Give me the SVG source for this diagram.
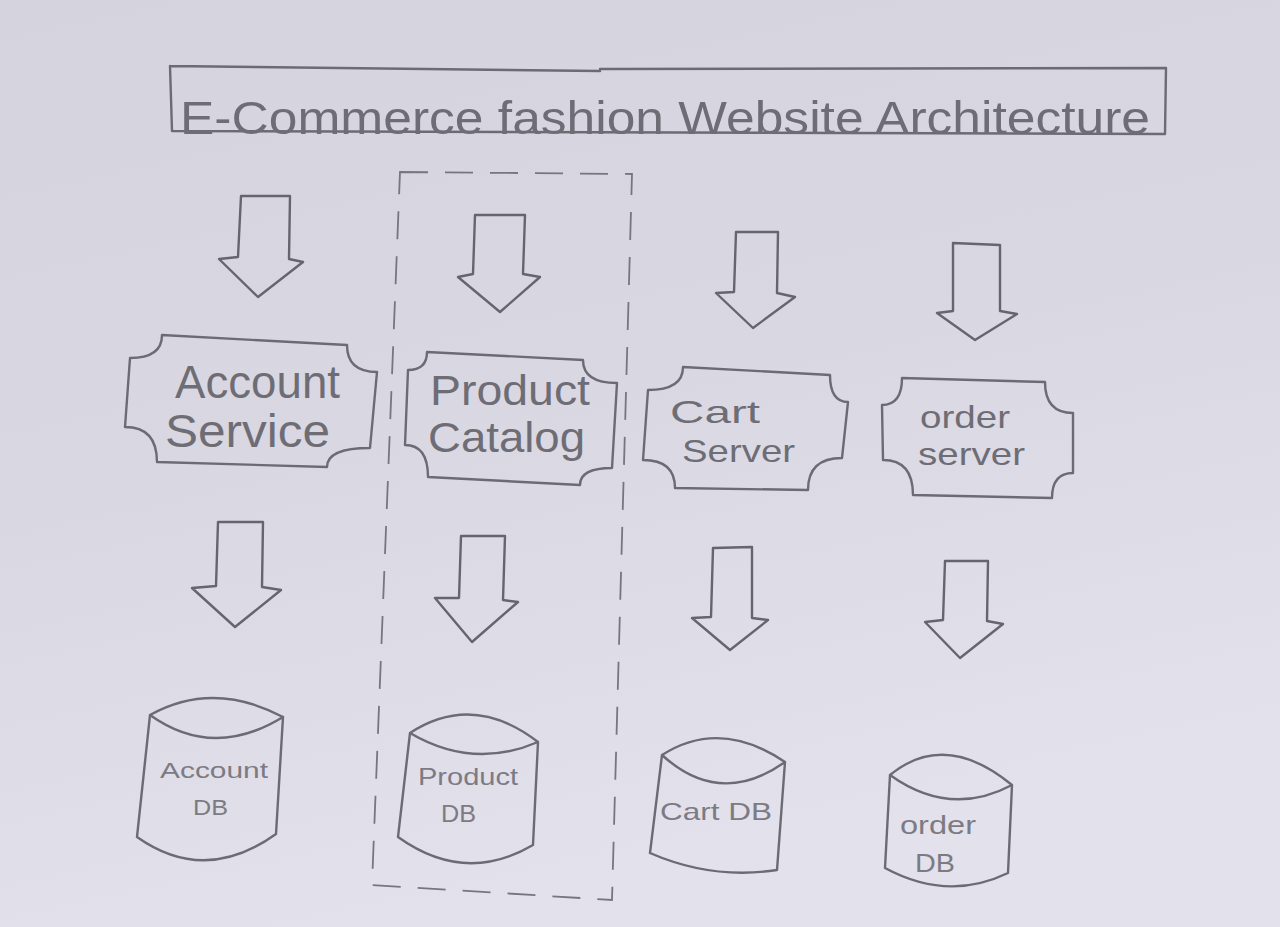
<svg xmlns="http://www.w3.org/2000/svg" width="1280" height="927" viewBox="0 0 1280 927">
<defs>
<linearGradient id="paper" x1="0" y1="0" x2="0.3" y2="1">
<stop offset="0" stop-color="#d5d4de"/>
<stop offset="0.5" stop-color="#d9d8e2"/>
<stop offset="1" stop-color="#e3e1eb"/>
</linearGradient>
<style>
.ln{fill:none;stroke:#6c6b73;stroke-width:2.4;stroke-linejoin:round;stroke-linecap:round}
.ar{fill:none;stroke:#66656d;stroke-width:2.4;stroke-linejoin:round}
.dash{fill:none;stroke:#77767e;stroke-width:1.8;stroke-dasharray:28 17}
.t{font-family:"Liberation Sans","DejaVu Sans",sans-serif;fill:#6e6d75}
.tb{font-family:"Liberation Sans","DejaVu Sans",sans-serif;fill:#7c7b83}
</style>
</defs>
<rect width="1280" height="927" fill="url(#paper)"/>

<g id="title">
<path class="ln" d="M170,66 L600,71 M600,69 L1166,68 L1165,134 L172,131 L170,66"/>
<text class="t" x="180" y="134" font-size="46" textLength="970" lengthAdjust="spacingAndGlyphs">E-Commerce fashion Website Architecture</text>
</g>

<g id="product-group-boundary">
<path class="dash" d="M400,172 L632,174 L612,900 L372,885 Z"/>
</g>

<g id="connectors">
<polygon class="ar" points="241,196 290,196 289,259 303,262 258,297 219,259 238,257"/>
<polygon class="ar" points="475,215 525,215 523,274 540,277 500,312 458,277 473,274"/>
<polygon class="ar" points="736,232 778,232 777,293 795,297 753,328 716,293 734,292"/>
<polygon class="ar" points="953,243 1000,245 1000,311 1017,314 975,340 937,313 953,311"/>
<polygon class="ar" points="218,522 263,522 262,587 281,590 235,627 192,588 216,586"/>
<polygon class="ar" points="461,536 505,536 503,600 518,602 472,642 435,598 459,598"/>
<polygon class="ar" points="713,548 752,547 752,618 768,620 730,650 692,618 711,617"/>
<polygon class="ar" points="945,561 988,561 987,621 1003,624 960,658 925,622 943,620"/>
</g>

<g id="account-service">
<path class="ln" d="M162,335 L347,345 Q347,372 377,372 L370,448 Q327,448 327,467 L157,462 Q157,427 125,427 L130,358 Q162,358 162,335 Z"/>
<text class="t" x="175" y="398" font-size="46" textLength="165" lengthAdjust="spacingAndGlyphs">Account</text>
<text class="t" x="165" y="447" font-size="46" textLength="165" lengthAdjust="spacingAndGlyphs">Service</text>
</g>

<g id="product-catalog">
<path class="ln" d="M427,352 L583,360 Q583,383 617,383 L612,468 Q580,468 580,485 L428,477 Q428,445 405,445 L408,370 Q427,370 427,352 Z"/>
<text class="t" x="430" y="405" font-size="42" textLength="160" lengthAdjust="spacingAndGlyphs">Product</text>
<text class="t" x="428" y="452" font-size="42" textLength="157" lengthAdjust="spacingAndGlyphs">Catalog</text>
</g>

<g id="cart-server">
<path class="ln" d="M683,367 L830,375 Q830,402 848,402 L842,458 Q808,458 808,490 L675,488 Q675,460 643,460 L648,390 Q683,390 683,367 Z"/>
<text class="t" x="670" y="423" font-size="32" textLength="90" lengthAdjust="spacingAndGlyphs">Cart</text>
<text class="t" x="682" y="462" font-size="32" textLength="113" lengthAdjust="spacingAndGlyphs">Server</text>
</g>

<g id="order-server">
<path class="ln" d="M902,378 L1045,382 Q1045,413 1073,413 L1073,473 Q1052,473 1052,498 L913,495 Q913,460 883,460 L882,405 Q902,405 902,378 Z"/>
<text class="t" x="920" y="428" font-size="32" textLength="90" lengthAdjust="spacingAndGlyphs">order</text>
<text class="t" x="918" y="465" font-size="32" textLength="107" lengthAdjust="spacingAndGlyphs">server</text>
</g>

<g id="account-db">
<path class="ln" d="M150,715 Q213,680 283,717 M150,715 Q213,760 283,717 M150,715 L137,837 M283,717 L276,834 M137,837 Q205,885 276,834"/>
<text class="tb" x="160" y="778" font-size="22" textLength="108" lengthAdjust="spacingAndGlyphs">Account</text>
<text class="tb" x="193" y="815" font-size="22" textLength="35" lengthAdjust="spacingAndGlyphs">DB</text>
</g>

<g id="product-db">
<path class="ln" d="M410,733 Q473,692 538,742 M410,733 Q473,770 538,742 M410,733 L398,837 M538,742 L533,845 M398,837 Q465,885 533,845"/>
<text class="tb" x="418" y="785" font-size="24" textLength="100" lengthAdjust="spacingAndGlyphs">Product</text>
<text class="tb" x="441" y="822" font-size="24" textLength="35" lengthAdjust="spacingAndGlyphs">DB</text>
</g>

<g id="cart-db">
<path class="ln" d="M662,755 Q720,718 785,762 M662,755 Q720,808 785,762 M662,755 L650,853 M785,762 L777,870 M650,853 Q712,880 777,870"/>
<text class="tb" x="660" y="820" font-size="24" textLength="112" lengthAdjust="spacingAndGlyphs">Cart DB</text>
</g>

<g id="order-db">
<path class="ln" d="M890,775 Q945,730 1012,785 M890,775 Q950,818 1012,785 M890,775 L885,868 M1012,785 L1008,873 M885,868 Q948,902 1008,873"/>
<text class="tb" x="900" y="834" font-size="26" textLength="76" lengthAdjust="spacingAndGlyphs">order</text>
<text class="tb" x="915" y="872" font-size="26" textLength="40" lengthAdjust="spacingAndGlyphs">DB</text>
</g>
</svg>
